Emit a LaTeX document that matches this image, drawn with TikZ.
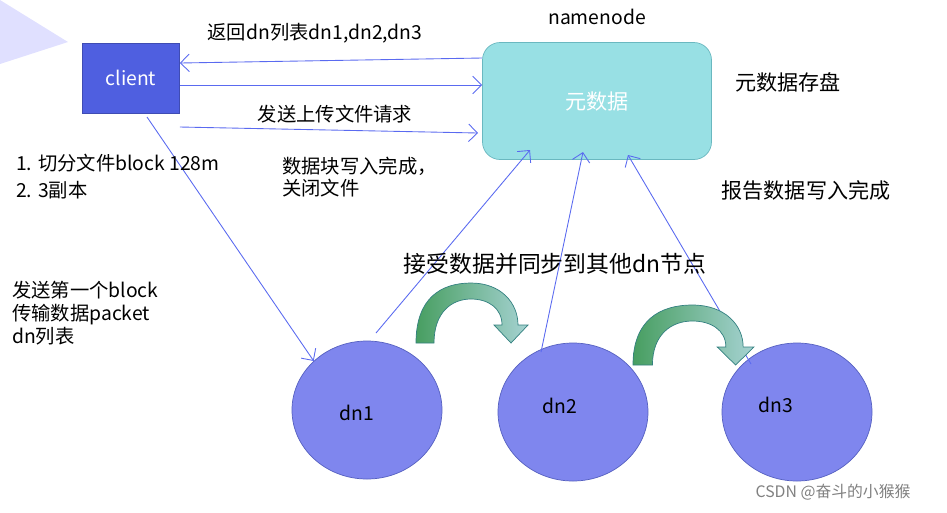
\documentclass[tikz,border=0pt]{standalone}
\usepackage{fontspec}
\setmainfont{Noto Sans CJK SC}
\usetikzlibrary{arrows.meta,shapes.geometric}
\definecolor{clientblue}{HTML}{4F5FE0}
\definecolor{nnfill}{HTML}{98E0E4}
\definecolor{nndraw}{HTML}{6AB8C0}
\definecolor{dnfill}{HTML}{7F86EE}
\definecolor{dndraw}{HTML}{5560C0}
\definecolor{linkblue}{HTML}{5A6AF0}
\begin{document}
\begin{tikzpicture}[
  x=0.02cm, y=-0.02cm,
  txt/.style={font=\fontsize{11}{13}\selectfont, align=left},
  dn/.style={ellipse, draw=dndraw, fill=dnfill, minimum width=150*0.02cm, minimum height=138*0.02cm},
  link/.style={-{Straight Barb[length=5pt]}, linkblue, line width=0.5pt},
  arcarrow/.style={left color=green!30!gray!80!teal, right color=teal!35!white, draw=teal!60!gray, line width=0.4pt}
]
\useasboundingbox (0,0) rectangle (947,512);
\fill[blue!12] (0,0) -- (68,42) -- (0,64) -- cycle;

% client and namenode
\node[rectangle, draw=clientblue!80!black, fill=clientblue, minimum width=97*0.02cm, minimum height=70*0.02cm,
      text=white, font=\fontsize{11}{13}\selectfont] (client) at (131,78) {client};
\node[rectangle, rounded corners=10pt, draw=nndraw, fill=nnfill, minimum width=229*0.02cm, minimum height=117*0.02cm,
      text=white, font=\fontsize{12}{14}\selectfont] (nn) at (597,101) {元数据};
\node[txt] (nnlabel) at (597,17) {namenode};
\node[txt, font=\fontsize{12}{14}\selectfont] (store) at (788,82) {元数据存盘};

% datanodes
\node[dn] (dn1) at (367,410) {};
\node[dn] (dn2) at (573,412) {};
\node[dn] (dn3) at (797,412) {};
\node[txt] at (357,413) {dn1};
\node[txt] at (560,406) {dn2};
\node[txt] at (776,405) {dn3};

% client <-> namenode
\draw[link] (nn.west |- 0,58) -- (client.east |- 0,63);
\draw[link] (client.east |- 0,85) -- (nn.west |- 0,85);
\draw[link] (client.east |- 0,127) -- (478,133);
\node[txt] at (315,33) {返回dn列表dn1,dn2,dn3};
\node[txt] at (335,114) {发送上传文件请求};

% client -> dn1, datanodes -> namenode
\draw[link] (147,117) -- (dn1.north west);
\draw[link] (376,333) -- (530,150);
\draw[link] (541,352) -- (583,152);
\draw[link] (751,364) -- (628,155);

% texts
\node[txt, anchor=west] at (10,163) {1. 切分文件block 128m};
\node[txt, anchor=west] at (10,190) {2. 3副本};
\node[txt, anchor=west] at (276,177) {数据块写入完成，\\关闭文件};
\node[txt, font=\fontsize{12}{14}\selectfont] at (806,190) {报告数据写入完成};
\node[txt, font=\fontsize{13}{15}\selectfont] at (555,264) {接受数据并同步到其他dn节点};
\node[txt, anchor=west] at (6,313) {发送第一个block\\传输数据packet\\dn列表};

% curved arrows
\foreach \px/\py/\sx in {416/343/1, 633/365/1.08} {
  \begin{scope}[shift={(\px,\py)}, xscale=\sx]
    \shade[arcarrow] (0,0) .. controls (0,-45) and (25,-60) .. (55,-60)
      .. controls (85,-60) and (102,-40) .. (102,-18) -- (112,-18) -- (95,0) -- (78,-18) -- (86,-18)
      .. controls (86,-35) and (72,-44) .. (55,-44) .. controls (35,-44) and (18,-30) .. (18,0) -- cycle;
  \end{scope}
}

\node[font=\fontsize{9}{11}\selectfont, text=gray] (mark) at (833,492) {CSDN @奋斗的小猴猴};
\end{tikzpicture}
\end{document}
